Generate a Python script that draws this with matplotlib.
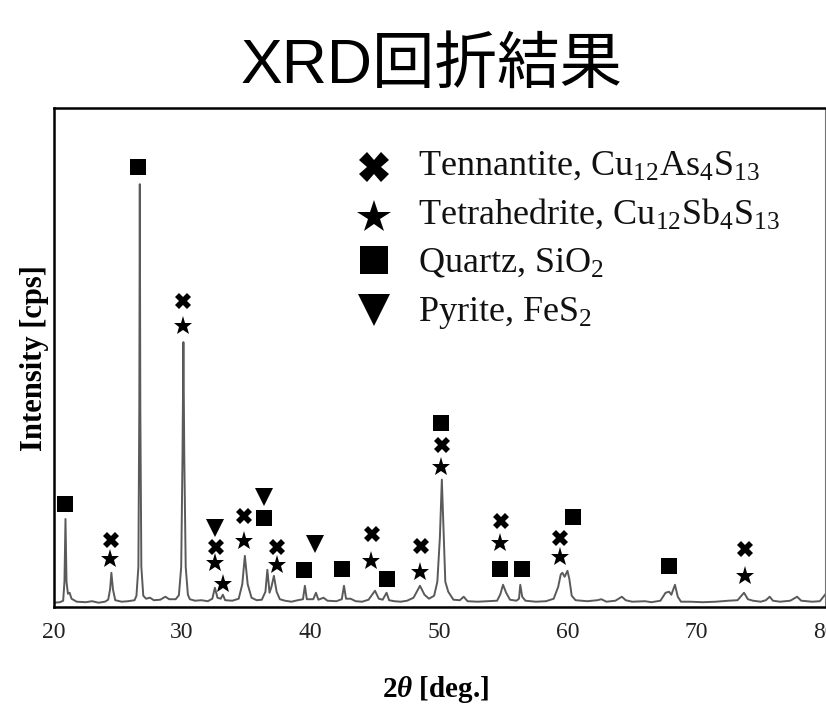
import matplotlib
matplotlib.use('Agg')
import matplotlib.pyplot as plt

# ---------------- data ----------------
trace_2theta = [
    20.0, 20.5, 20.75, 20.85, 20.93, 21.01, 21.12, 21.25, 21.4, 21.8,
    22.5, 23.0, 23.5, 24.0, 24.25, 24.4, 24.5, 24.62, 24.8, 25.3,
    25.8, 26.3, 26.45, 26.6, 26.67, 26.71, 26.75, 26.83, 26.98, 27.2, 27.5, 27.8,
    28.3, 28.7, 29.0, 29.5, 29.75, 29.93, 30.03, 30.1, 30.17, 30.28, 30.45, 30.6,
    31.0, 31.5, 32.0, 32.35, 32.55, 32.75, 33.0, 33.17, 33.35, 33.9,
    34.4, 34.68, 34.88, 35.1, 35.4, 35.8, 36.2, 36.48, 36.63, 36.8,
    36.95, 37.14, 37.35, 37.6, 38.0, 38.5, 39.0, 39.4, 39.55, 39.7,
    40.2, 40.41, 40.6, 41.0, 41.3, 42.0, 42.42, 42.59, 42.75, 43.1,
    43.5, 44.0, 44.5, 45.0, 45.3, 45.6, 45.9, 46.1, 46.5, 47.0,
    47.5, 48.0, 48.5, 48.85, 49.2, 49.6, 49.85, 50.05, 50.2, 50.35,
    50.47, 50.7, 51.1, 51.6, 51.9, 52.2, 53.0, 53.8, 54.5, 54.75,
    54.96, 55.2, 55.5, 56.0, 56.2, 56.3, 56.45, 56.7, 57.5, 58.3,
    58.9, 59.25, 59.45, 59.58, 59.75, 59.97, 60.12, 60.3, 60.6, 61.5,
    62.3, 62.6, 63.0, 63.7, 64.2, 64.5, 65.0, 66.0, 66.5, 67.2,
    67.6, 67.87, 68.05, 68.33, 68.55, 68.8, 69.5, 70.5, 71.5, 72.5,
    73.2, 73.7, 74.0, 74.4, 75.0, 75.4, 75.7, 75.95, 76.5, 77.3,
    77.83, 78.15, 79.0, 79.6, 80.0,
]
trace_intensity = [
    0.8, 0.9, 1.2, 5.0, 17.6, 5.0, 2.6, 2.8, 1.6, 1.0,
    0.9, 1.1, 0.8, 1.0, 1.4, 3.5, 6.8, 3.5, 1.3, 1.0,
    1.1, 1.3, 2.2, 8.0, 40.0, 84.8, 40.0, 8.0, 2.2, 1.6, 1.8, 1.3,
    1.4, 2.0, 1.5, 1.5, 2.3, 8.0, 30.0, 53.1, 30.0, 8.0, 2.4, 1.5,
    1.2, 1.3, 1.1, 1.6, 3.8, 1.8, 1.6, 2.4, 1.3, 1.2,
    1.6, 4.5, 10.2, 4.5, 1.8, 1.3, 1.4, 3.0, 7.4, 2.8,
    4.0, 6.2, 3.0, 1.5, 1.2, 1.0, 1.3, 1.5, 4.2, 1.5,
    1.5, 2.8, 1.4, 1.8, 1.2, 1.1, 1.5, 4.2, 1.6, 1.6,
    1.1, 1.0, 1.4, 3.2, 1.6, 1.4, 2.8, 1.3, 1.1, 1.0,
    1.2, 1.8, 4.2, 2.4, 1.6, 2.2, 5.0, 14.0, 25.5, 14.0,
    5.0, 3.0, 1.4, 1.3, 2.0, 1.1, 1.0, 1.1, 1.2, 2.5,
    4.4, 2.8, 1.4, 1.2, 1.6, 4.4, 2.0, 1.2, 1.0, 1.1,
    1.6, 4.0, 6.5, 6.8, 6.0, 7.2, 5.5, 2.2, 1.3, 1.1,
    1.3, 1.5, 1.0, 1.2, 2.0, 1.3, 1.0, 1.1, 0.9, 1.2,
    2.8, 3.0, 2.4, 4.4, 2.0, 1.0, 1.0, 0.9, 1.0, 1.2,
    1.3, 2.8, 1.5, 1.2, 1.0, 1.3, 2.0, 1.2, 1.0, 1.2,
    2.0, 1.2, 1.0, 1.1, 2.4,
]

# phase marker annotations (2theta, intensity)
tennantite_x = [24.45, 30.05, 32.62, 34.8, 37.37, 44.76, 48.58, 50.2, 54.8, 59.4, 73.8]
tennantite_y = [13.4, 61.3, 12.0, 18.2, 12.0, 14.6, 12.2, 32.5, 17.2, 13.8, 11.6]
tetrahedrite_x = [24.37, 30.05, 32.55, 33.17, 34.8, 37.37, 44.68, 48.5, 50.13, 54.72, 59.4, 73.8]
tetrahedrite_y = [9.6, 56.3, 8.8, 4.6, 13.2, 8.4, 9.2, 7.0, 28.1, 12.8, 10.0, 6.2]
quartz_x = [20.87, 26.55, 36.36, 39.47, 42.43, 45.96, 50.13, 54.72, 56.4, 60.4, 67.88]
quartz_y = [20.6, 88.2, 17.8, 7.4, 7.6, 5.6, 36.9, 7.6, 7.6, 18.0, 8.2]
pyrite_x = [32.55, 36.36, 40.33]
pyrite_y = [15.8, 22.0, 12.6]

legend_labels = [
    'Tennantite, Cu$_{12}$As$_{4}$S$_{13}$',
    'Tetrahedrite, Cu$_{12}$Sb$_{4}$S$_{13}$',
    'Quartz, SiO$_{2}$',
    'Pyrite, FeS$_{2}$',
]
x_ticks = [20, 30, 40, 50, 60, 70, 80]
title_text = 'XRD回折結果'
x_label = r'2$\mathbfit{\theta}$ [deg.]'
y_label = 'Intensity [cps]'

# ---------------- style ----------------
plt.rcParams['font.family'] = ['Liberation Serif', 'DejaVu Serif']
plt.rcParams['mathtext.fontset'] = 'custom'
plt.rcParams['mathtext.rm'] = 'Liberation Serif'
plt.rcParams['mathtext.it'] = 'Liberation Serif:italic'
plt.rcParams['mathtext.bf'] = 'Liberation Serif:bold'
plt.rcParams['mathtext.bfit'] = 'Liberation Serif:bold:italic'
plt.rcParams['mathtext.default'] = 'rm'

fig = plt.figure(figsize=(8.26, 7.09), dpi=100)
ax = fig.add_axes([0.0648, 0.1443, 0.934, 0.7027])

ax.plot(trace_2theta, trace_intensity, color='#5a5a5a', lw=1.4, zorder=2)

mk = dict(color='black', ls='none', markeredgewidth=0, zorder=3, clip_on=False)
ax.plot(tennantite_x, tennantite_y, marker='X', ms=11, **mk)
ax.plot(tetrahedrite_x, tetrahedrite_y, marker='*', ms=14, **mk)
ax.plot(quartz_x, quartz_y, marker='s', ms=11, **mk)
ax.plot(pyrite_x, pyrite_y, marker='v', ms=12.5, **mk)

# custom legend
leg_markers = ['X', '*', 's', 'v']
leg_sizes = [21, 25, 20, 23]
leg_marker_y = [0.8828, 0.7828, 0.6958, 0.5954]
leg_text_y = [0.8665, 0.769, 0.672, 0.574]
for lab, m, s, my, ty in zip(legend_labels, leg_markers, leg_sizes, leg_marker_y, leg_text_y):
    ax.plot([0.4154], [my], marker=m, ms=s, color='black', ls='none',
            markeredgewidth=0, transform=ax.transAxes, clip_on=False)
    ax.text(0.4729, ty, lab, transform=ax.transAxes, va='baseline', ha='left',
            fontsize=26, color='#111111')

ax.set_xlim(20, 80)
ax.set_ylim(0, 100)
ax.set_xticks(x_ticks)
ax.set_xticklabels([str(t) for t in x_ticks])
ax.tick_params(axis='x', length=0, pad=11, labelsize=17, colors='#222222')
ax.set_yticks([])

for side in ['left', 'top', 'bottom']:
    ax.spines[side].set_linewidth(1.8)
    ax.spines[side].set_color('black')
ax.spines['right'].set_linewidth(0.8)
ax.spines['right'].set_color('#777777')

ax.set_ylabel(y_label, fontsize=22, fontweight='bold', labelpad=3)
ax.set_xlabel(x_label, fontsize=21, fontweight='bold')
ax.xaxis.set_label_coords(0.495, -0.135)
ax.xaxis.label.set_va('top')

fig.text(0.5224, 0.883, title_text, family=['Liberation Sans', 'Noto Sans CJK JP'],
         fontsize=45, ha='center', va='baseline')

fig.savefig('out.png', dpi=100)
